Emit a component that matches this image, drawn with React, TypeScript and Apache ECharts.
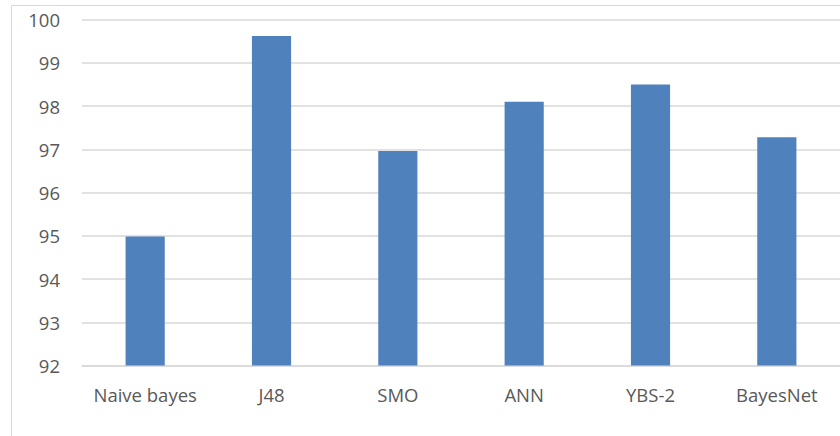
import React, { useEffect, useRef } from "react";
import * as echarts from "echarts";

const categories = ["Naive bayes", "J48", "SMO", "ANN", "YBS-2", "BayesNet"];
const accuracy = [94.98, 99.62, 96.96, 98.1, 98.5, 97.28];
const yMin = 92;
const yMax = 100;
const yStep = 1;

export default function App() {
  const ref = useRef<HTMLDivElement>(null);
  useEffect(() => {
    if (!ref.current) return;
    const chart = echarts.init(ref.current, null, { renderer: "svg" });
    chart.setOption({
      animation: false,
      backgroundColor: "#ffffff",
      graphic: [
        {
          type: "rect",
          shape: { x: 11.5, y: 5.5, width: 900, height: 500 },
          style: { fill: "none", stroke: "#d9d9d9", lineWidth: 1 },
          silent: true,
        },
      ],
      grid: { left: 82, right: 0, top: 19.5, bottom: 70.5, containLabel: false },
      xAxis: {
        type: "category",
        data: categories,
        axisLine: { show: true, lineStyle: { color: "#d9d9d9", width: 1.5 } },
        axisTick: { show: false },
        axisLabel: {
          interval: 0,
          hideOverlap: false,
          color: "#595959",
          fontFamily: "Open Sans",
          fontSize: 18.5,
          margin: 19,
        },
      },
      yAxis: {
        type: "value",
        min: yMin,
        max: yMax,
        interval: yStep,
        axisLine: { show: false },
        axisTick: { show: false },
        splitLine: { lineStyle: { color: "#d9d9d9", width: 1.5 } },
        axisLabel: {
          color: "#595959",
          fontFamily: "Open Sans",
          fontSize: 18.5,
          margin: 22,
        },
      },
      series: [
        {
          type: "bar",
          data: accuracy,
          barWidth: "31%",
          itemStyle: { color: "#4f81bd" },
        },
      ],
    });
    return () => chart.dispose();
  }, []);
  return (
    <div
      ref={ref}
      style={{ position: "fixed", left: 0, top: 0, width: 840, height: 436 }}
    />
  );
}
